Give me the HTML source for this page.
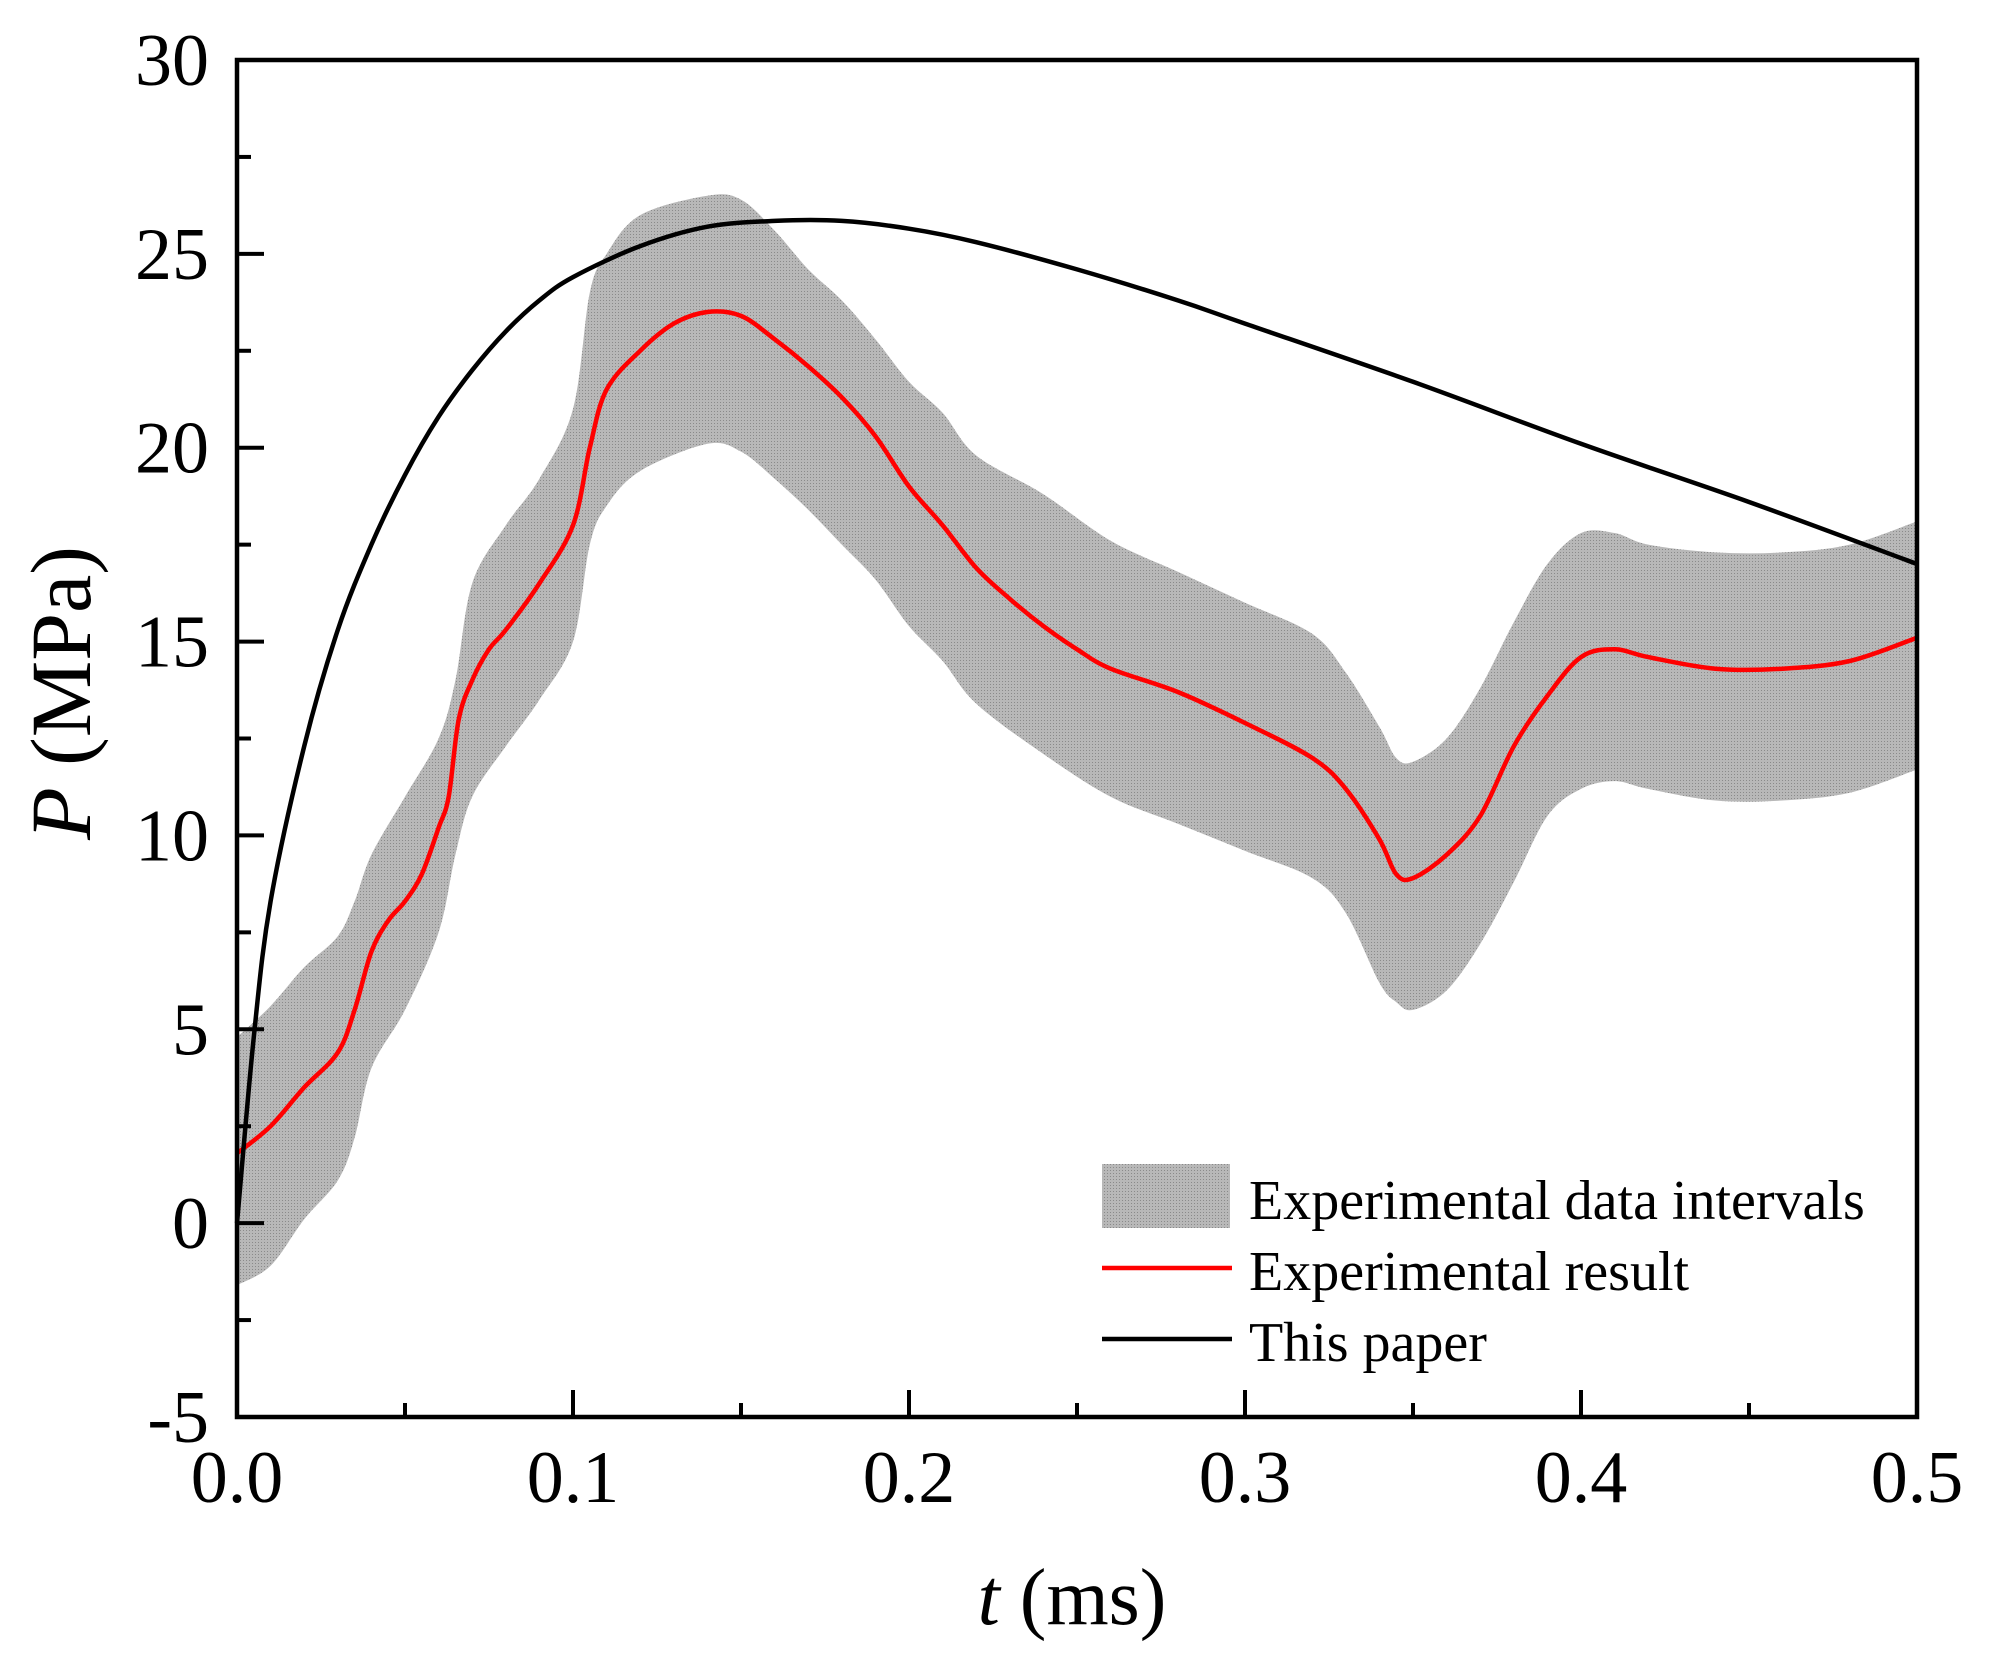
<!DOCTYPE html>
<html><head><meta charset="utf-8"><style>
html,body{margin:0;padding:0;background:#fff}
svg{display:block;font-family:"Liberation Serif",serif}
</style></head><body>
<svg id="chart" width="1989" height="1662" viewBox="0 0 1989 1662">
<defs><pattern id="dots" width="3" height="3" patternUnits="userSpaceOnUse"><rect width="3" height="3" fill="#b8b8b8"/><rect width="1" height="1" fill="#8a8a8a"/></pattern></defs>
<g id="plot"></g>
</svg>
<script>
const bandT=[0,0.01,0.02,0.03,0.035,0.04,0.05,0.06,0.065,0.07,0.08,0.09,0.1,0.105,0.11,0.12,0.14,0.15,0.16,0.17,0.18,0.19,0.2,0.21,0.22,0.24,0.26,0.28,0.3,0.32,0.33,0.34,0.345,0.35,0.36,0.37,0.38,0.39,0.4,0.41,0.42,0.44,0.46,0.48,0.5];
const bandUpper=[4.8,5.6,6.6,7.4,8.3,9.5,11,12.5,14,16.5,18,19.2,21,24,25,26,26.5,26.4,25.6,24.6,23.8,22.8,21.7,20.9,19.8,18.8,17.6,16.8,16,15.2,14.2,12.8,12,11.9,12.5,13.8,15.5,17,17.8,17.8,17.5,17.3,17.3,17.5,18.1];
const bandLower=[-1.6,-1.1,0.1,1.1,2.2,4,5.5,7.5,9.5,11,12.3,13.5,15,17.5,18.5,19.4,20.1,19.9,19.2,18.4,17.5,16.6,15.4,14.5,13.4,12.1,11,10.3,9.6,8.9,8,6.2,5.7,5.5,6,7.2,8.8,10.5,11.2,11.4,11.2,10.9,10.9,11.1,11.7];
const expT=[0,0.01,0.02,0.03,0.035,0.04,0.045,0.05,0.055,0.06,0.063,0.066,0.07,0.075,0.08,0.09,0.1,0.105,0.11,0.12,0.13,0.14,0.15,0.16,0.17,0.18,0.19,0.2,0.21,0.22,0.23,0.24,0.25,0.26,0.28,0.3,0.32,0.33,0.34,0.345,0.35,0.36,0.37,0.38,0.39,0.4,0.41,0.42,0.44,0.46,0.48,0.5];
const expP=[1.8,2.5,3.5,4.4,5.5,7,7.8,8.3,9,10.2,11,13,14,14.8,15.3,16.5,18,20,21.5,22.5,23.2,23.5,23.4,22.8,22.1,21.3,20.3,19,18,16.9,16.1,15.4,14.8,14.3,13.7,12.9,12,11.2,9.9,9,8.9,9.5,10.5,12.3,13.6,14.6,14.8,14.6,14.3,14.3,14.5,15.1];
const modelT=[0,0.005,0.01,0.02,0.03,0.04,0.05,0.06,0.07,0.08,0.09,0.1,0.12,0.14,0.16,0.18,0.2,0.22,0.25,0.28,0.3,0.35,0.4,0.45,0.5];
const modelP=[0,4.8,8.3,12.3,15.3,17.5,19.3,20.8,22,23,23.8,24.4,25.2,25.7,25.85,25.85,25.65,25.3,24.6,23.8,23.2,21.7,20.1,18.6,17.0];
const xTicks=[0,0.1,0.2,0.3,0.4,0.5], xLabels=["0.0","0.1","0.2","0.3","0.4","0.5"];
const yTicks=[-5,0,5,10,15,20,25,30], yLabels=["-5","0","5","10","15","20","25","30"];

const L=237,R=1917,T=60,B=1417;
const X=t=>L+(t/0.5)*(R-L);
const Y=p=>T+(30-p)/35*(B-T);
const NS="http://www.w3.org/2000/svg";
const g=document.getElementById('plot');
function mk(tag,attrs,parent){const e=document.createElementNS(NS,tag);for(const k in attrs)e.setAttribute(k,attrs[k]);(parent||g).appendChild(e);return e;}
function spline(pts){let d=`M${pts[0][0]},${pts[0][1]}`;for(let i=0;i<pts.length-1;i++){const p0=pts[Math.max(i-1,0)],p1=pts[i],p2=pts[i+1],p3=pts[Math.min(i+2,pts.length-1)];
const c1=[p1[0]+(p2[0]-p0[0])/6,p1[1]+(p2[1]-p0[1])/6],c2=[p2[0]-(p3[0]-p1[0])/6,p2[1]-(p3[1]-p1[1])/6];
d+=`C${c1[0].toFixed(1)},${c1[1].toFixed(1)} ${c2[0].toFixed(1)},${c2[1].toFixed(1)} ${p2[0].toFixed(1)},${p2[1].toFixed(1)}`;}return d;}
const up=bandT.map((t,i)=>[X(t),Y(bandUpper[i])]);
const lo=bandT.map((t,i)=>[X(t),Y(bandLower[i])]).reverse();
let bd=spline(up)+spline(lo).replace(/^M/,'L')+'Z';
const band=mk('path',{d:bd,fill:'url(#dots)',stroke:'none'});


const red=mk('path',{d:spline(expT.map((t,i)=>[X(t),Y(expP[i])])),fill:'none',stroke:'#ff0000','stroke-width':4.5});


const blk=mk('path',{d:spline(modelT.map((t,i)=>[X(t),Y(modelP[i])])),fill:'none',stroke:'#000','stroke-width':4.5});


const frame=mk('rect',{x:L,y:T,width:R-L,height:B-T,fill:'none',stroke:'#000','stroke-width':4.5});


xTicks.forEach((t,i)=>{
 mk('line',{x1:X(t),x2:X(t),y1:B,y2:B-27,stroke:'#000','stroke-width':4});
 if(i<xTicks.length-1)mk('line',{x1:X(t+0.05),x2:X(t+0.05),y1:B,y2:B-14,stroke:'#000','stroke-width':4});
 const tx=mk('text',{x:X(t),y:1502,'text-anchor':'middle','font-size':74});tx.textContent=xLabels[i];
 
 
});
yTicks.forEach((p,i)=>{
 mk('line',{x1:L,x2:L+27,y1:Y(p),y2:Y(p),stroke:'#000','stroke-width':4});
 if(i<yTicks.length-1)mk('line',{x1:L,x2:L+14,y1:Y(p+2.5),y2:Y(p+2.5),stroke:'#000','stroke-width':4});
 const tx=mk('text',{x:209,y:Y(p)+25,'text-anchor':'end','font-size':74});tx.textContent=yLabels[i];
 
 
});
const xt=mk('text',{x:1072,y:1624,'text-anchor':'middle','font-size':80});
xt.innerHTML='<tspan font-style="italic">t</tspan> (ms)';


const yt=mk('text',{x:0,y:0,'text-anchor':'middle','font-size':86,transform:'translate(90,693) rotate(-90)'});
yt.innerHTML='<tspan font-style="italic">P</tspan> (MPa)';


const lg=mk('g',{});


const lr=mk('rect',{x:1102,y:1164,width:128,height:64,fill:'url(#dots)'},lg);


const l1=mk('line',{x1:1102,x2:1232,y1:1268,y2:1268,stroke:'#ff0000','stroke-width':4.5},lg);


const l2=mk('line',{x1:1102,x2:1232,y1:1339,y2:1339,stroke:'#000','stroke-width':4.5},lg);


[["Experimental data intervals",1219],["Experimental result",1290],["This paper",1361]].forEach(([s,y])=>{
 const t=mk('text',{x:1249,y:y,'font-size':56},lg);t.textContent=s;
 
 
});
</script>
</body></html>
